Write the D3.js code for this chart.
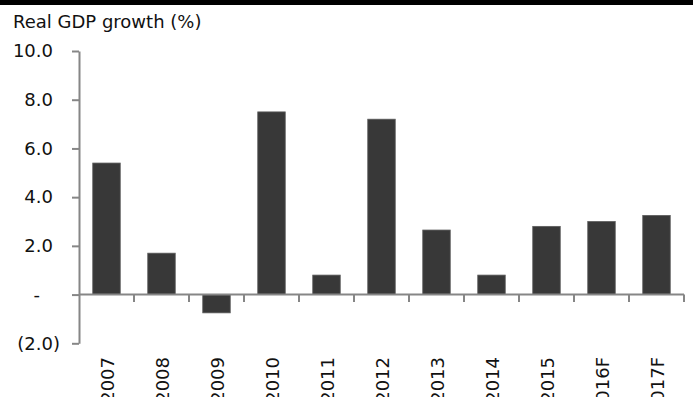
<!DOCTYPE html>
<html>
<head>
<meta charset="utf-8">
<script src="https://cdn.jsdelivr.net/npm/d3@7/dist/d3.min.js"></script>
<style>
  html, body { margin: 0; padding: 0; background: #fff; }
  svg { display: block; font-family: "DejaVu Sans", Verdana, sans-serif; }
</style>
</head>
<body>
<svg id="chart" width="695" height="397"></svg>
<script>
// Real GDP growth by year (F = forecast)
const years = ["2007", "2008", "2009", "2010", "2011", "2012", "2013", "2014", "2015", "2016F", "2017F"];
const growth = [5.4, 1.7, -0.75, 7.5, 0.8, 7.2, 2.65, 0.8, 2.8, 3.0, 3.25];
const yTicks = [-2, 0, 2, 4, 6, 8, 10];
const title = "Real GDP growth (%)";

const svg = d3.select("#chart");
const axisColor = "#868686";
const barColor = "#383838";

// Heavy rule along the top edge
svg.append("rect")
  .attr("x", 0).attr("y", 0)
  .attr("width", 693).attr("height", 5)
  .attr("fill", "#000");

const x = d3.scaleBand()
  .domain(years)
  .range([79, 684])
  .paddingInner(0.5)
  .paddingOuter(0.25);

const y = d3.scaleLinear()
  .domain([-2, 10])
  .range([343.3, 51]);

// Accounting-style tick labels: dash for zero, parentheses for negatives
const fmt = v => v === 0 ? "-" : v < 0 ? "(" + d3.format(".1f")(-v) + ")" : d3.format(".1f")(v);

// Title
svg.append("text")
  .attr("x", 13).attr("y", 28)
  .attr("font-size", 18)
  .attr("fill", "#111")
  .text(title);

// Y axis
const yAxis = svg.append("g")
  .attr("transform", "translate(79,0)")
  .call(d3.axisLeft(y).tickValues(yTicks).tickFormat(fmt).tickSize(7).tickSizeOuter(0));
yAxis.select(".domain").attr("stroke", axisColor).attr("stroke-width", 2);
yAxis.selectAll(".tick line").attr("stroke", axisColor).attr("stroke-width", 2);
yAxis.selectAll(".tick text")
  .attr("font-size", 18)
  .attr("font-family", "DejaVu Sans, Verdana, sans-serif")
  .attr("fill", "#111")
  .attr("x", d => d === 0 ? -39 : d < 0 ? -19 : -26);

// Bars
svg.append("g")
  .selectAll("rect")
  .data(years)
  .join("rect")
  .attr("x", d => x(d))
  .attr("width", x.bandwidth())
  .attr("y", (d, i) => y(Math.max(0, growth[i])))
  .attr("height", (d, i) => Math.abs(y(growth[i]) - y(0)))
  .attr("fill", barColor)
  .attr("stroke", "#5c5c5c")
  .attr("stroke-width", 0.8);

// X axis line at zero with ticks between categories
const y0 = y(0);
const half = (x.step() - x.bandwidth()) / 2;
const xAxis = svg.append("g");
xAxis.append("line")
  .attr("x1", x.range()[0]).attr("x2", x.range()[1])
  .attr("y1", y0).attr("y2", y0)
  .attr("stroke", axisColor).attr("stroke-width", 2);
const bounds = years.map(d => x(d) - half).concat([x.range()[1]]);
xAxis.selectAll("line.tick")
  .data(bounds.slice(1))
  .join("line")
  .attr("class", "tick")
  .attr("x1", d => d).attr("x2", d => d)
  .attr("y1", y0).attr("y2", y0 + 7.5)
  .attr("stroke", axisColor).attr("stroke-width", 2);

// Rotated category labels
svg.append("g")
  .selectAll("text")
  .data(years)
  .join("text")
  .attr("transform", d => `translate(${x(d) + x.bandwidth() / 2 + 7},357) rotate(-90)`)
  .attr("text-anchor", "end")
  .attr("font-size", 18)
  .attr("fill", "#111")
  .text(d => d);
</script>
</body>
</html>
